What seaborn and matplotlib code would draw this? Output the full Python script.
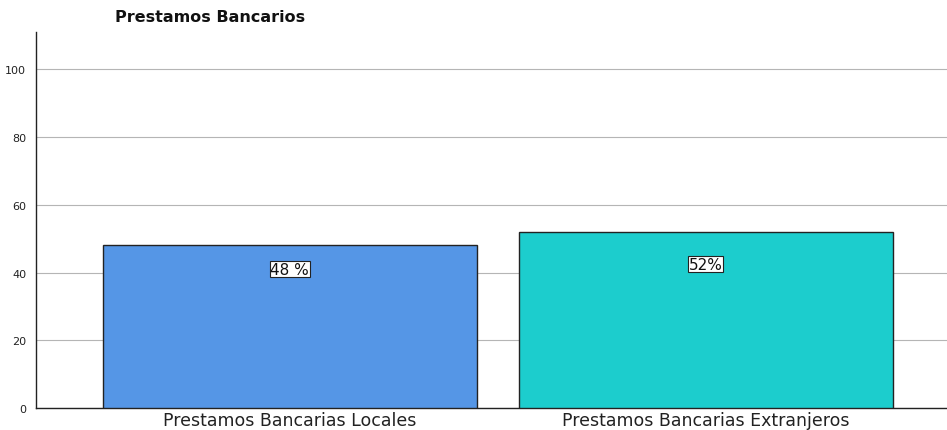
import matplotlib
matplotlib.use("Agg")
import matplotlib.pyplot as plt
import seaborn as sns
import pandas as pd

categories = ["Prestamos Bancarias Locales", "Prestamos Bancarias Extranjeros"]
values = [48, 52]
value_labels = ["48 %", "52%"]
bar_colors = ["#5596E6", "#1CCDCD"]

sns.set_theme(style="white")
plt.rcParams["font.family"] = ["DejaVu Sans"]

df = pd.DataFrame({"categoria": categories, "valor": values})

fig = plt.figure(figsize=(9.47, 4.31), dpi=100)
ax = fig.add_axes([36 / 947, 22 / 431, 911 / 947, 376 / 431])

sns.barplot(data=df, x="categoria", y="valor", hue="categoria",
            palette=bar_colors, saturation=1, width=0.9,
            edgecolor="#222222", linewidth=1.0, legend=False, ax=ax,
            zorder=3)

ax.set_ylim(0, 111)
ax.set_xlim(-0.61, 1.58)
ax.set_yticks([0, 20, 40, 60, 80, 100])
ax.yaxis.grid(True, color="#b5b5b5", linewidth=0.8, zorder=0)
ax.set_axisbelow(True)
ax.set_xlabel("")
ax.set_ylabel("")
ax.tick_params(axis="y", labelsize=8, colors="#222222", length=0, pad=7)
ax.tick_params(axis="x", labelsize=12.5, colors="#222222", length=0, pad=2)

for side in ["top", "right"]:
    ax.spines[side].set_visible(False)
for side in ["left", "bottom"]:
    ax.spines[side].set_color("#222222")
    ax.spines[side].set_linewidth(1.0)

# value labels sit just inside the top of each bar, in a white box
label_drop = [7, 9.5]
for i, (v, lab) in enumerate(zip(values, value_labels)):
    ax.text(i, v - label_drop[i], lab, ha="center", va="center",
            fontsize=11, color="#111111", zorder=5,
            bbox=dict(boxstyle="square,pad=0.05", facecolor="white",
                      edgecolor="#222222", linewidth=0.8))

fig.text(115 / 947, 1 - 18 / 431, "Prestamos Bancarios", ha="left",
         va="center", fontsize=11.5, fontweight="bold", color="#111111")

fig.savefig("out.png", dpi=100)
